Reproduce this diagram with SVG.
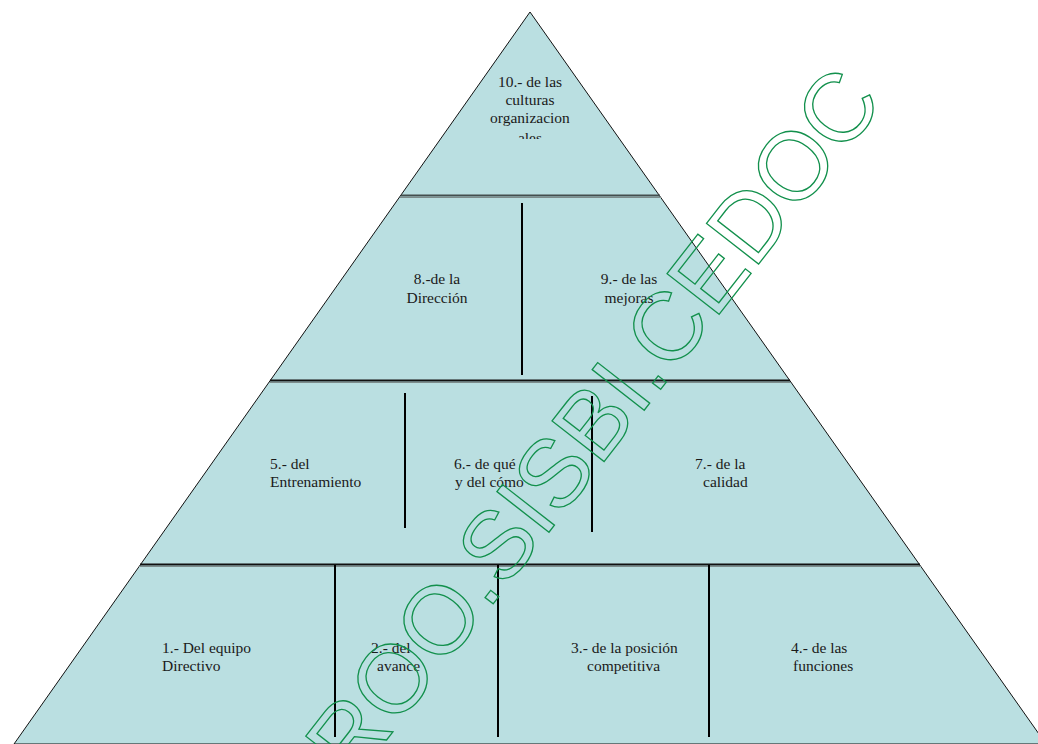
<svg xmlns="http://www.w3.org/2000/svg" width="1038" height="744" viewBox="0 0 1038 744">
<style>
.lbl{font-size:15.5px;fill:#1a1a1a}
.mid{text-anchor:middle}
.hd{stroke:#111;stroke-width:2;fill:none}
.hs{stroke:#7d8c8c;stroke-width:1;fill:none}
.vd{stroke:#000;stroke-width:2;fill:none}
.wm{font-size:96px;fill:none;stroke:#12904c;stroke-width:1.3}
</style>
<defs>
<clipPath id="c10"><rect x="440" y="60" width="180" height="79"/></clipPath>
</defs>
<rect width="1038" height="744" fill="#fff"/>
<g id="pyramid">
<polygon points="530,12 1046,744 14,744" fill="#badfe1" stroke="#111" stroke-width="1"/>
</g>
<g id="connectors">
<line class="hd" x1="401" y1="195.5" x2="660" y2="195.5" style="stroke:#444f4f"/>
<line class="hs" x1="400" y1="197.5" x2="661" y2="197.5"/>
<line class="hd" x1="270" y1="380.5" x2="790" y2="380.5"/>
<line class="hs" x1="269" y1="382.5" x2="791" y2="382.5"/>
<line class="hd" x1="140" y1="564.5" x2="920" y2="564.5"/>
<line class="hs" x1="139" y1="566.5" x2="921" y2="566.5"/>
<line class="vd" x1="522" y1="203" x2="522" y2="375"/>
<line class="vd" x1="405" y1="393" x2="405" y2="528"/>
<line class="vd" x1="592" y1="396" x2="592" y2="532"/>
<line class="vd" x1="335" y1="565" x2="335" y2="737"/>
<line class="vd" x1="498" y1="565" x2="498" y2="737"/>
<line class="vd" x1="709" y1="565" x2="709" y2="737"/>
</g>
<g font-family="'Liberation Serif','Times New Roman','DejaVu Serif',serif">
<g id="n10" clip-path="url(#c10)">
<text class="lbl mid" x="530" y="87">10.- de las</text>
<text class="lbl mid" x="530" y="105">culturas</text>
<text class="lbl mid" x="530" y="123">organizacion</text>
<text class="lbl mid" x="530" y="143">ales</text>
</g>
<g id="n8">
<text class="lbl mid" x="437" y="284">8.-de la</text>
<text class="lbl mid" x="437" y="303">Dirección</text>
</g>
<g id="n9">
<text class="lbl mid" x="629" y="284">9.- de las</text>
<text class="lbl mid" x="629" y="303">mejoras</text>
</g>
<g id="n5">
<text class="lbl" x="270" y="469">5.- del</text>
<text class="lbl" x="270" y="487">Entrenamiento</text>
</g>
<g id="n6">
<text class="lbl" x="454" y="469">6.- de qué</text>
<text class="lbl" x="455" y="487">y del cómo</text>
</g>
<g id="n7">
<text class="lbl" x="695" y="469">7.- de la</text>
<text class="lbl" x="703" y="487">calidad</text>
</g>
<g id="n1">
<text class="lbl" x="162" y="653">1.- Del equipo</text>
<text class="lbl" x="162" y="671">Directivo</text>
</g>
<g id="n2">
<text class="lbl" x="371" y="653">2.- del</text>
<text class="lbl" x="377" y="671">avance</text>
</g>
<g id="n3">
<text class="lbl" x="571" y="653">3.- de la posición</text>
<text class="lbl" x="587" y="671">competitiva</text>
</g>
<g id="n4">
<text class="lbl" x="791" y="653">4.- de las</text>
<text class="lbl" x="793" y="671">funciones</text>
</g>
</g>
<g id="watermark" font-family="'Liberation Sans',Arial,sans-serif">
<text class="wm" transform="translate(353,783) rotate(-52)">ROO.SISBI.CEDOC</text>
</g>
</svg>
